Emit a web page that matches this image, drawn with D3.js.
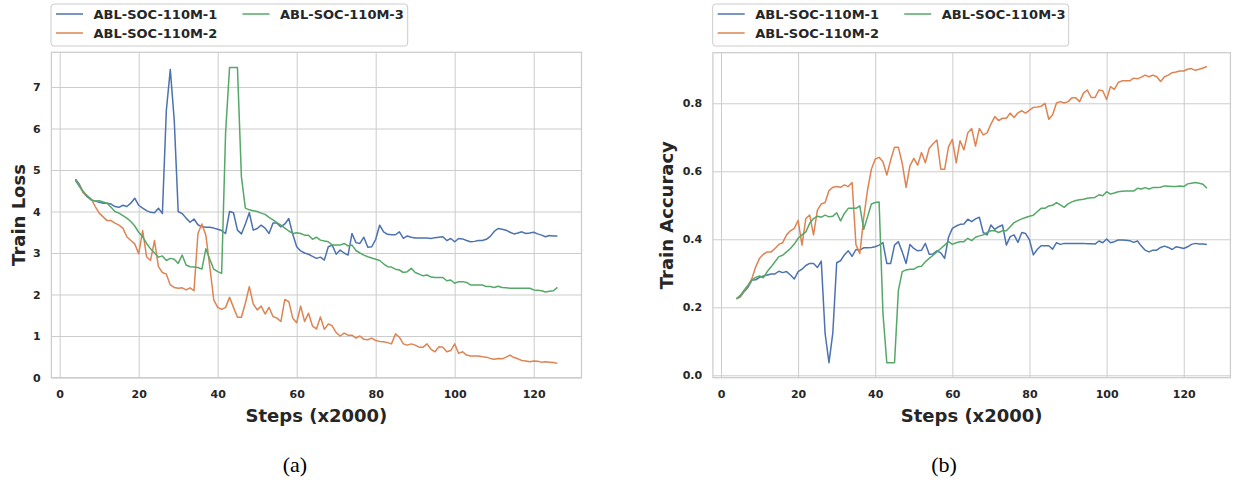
<!DOCTYPE html>
<html><head><meta charset="utf-8">
<script src="https://cdn.jsdelivr.net/npm/d3@7"></script>
<style>
html,body{margin:0;padding:0;background:#fff;}
svg{display:block;font-family:"DejaVu Sans",sans-serif;}
</style></head><body>
<svg id="fig" width="1233" height="480"></svg>
<script>
// Training steps (in units of 2000)
const steps = [4,5,6,7,8,9,10,11,12,13,14,15,16,17,18,19,20,21,22,23,24,25,26,27,28,29,30,31,32,33,34,35,36,37,38,39,40,41,42,43,44,45,46,47,48,49,50,51,52,53,54,55,56,57,58,59,60,61,62,63,64,65,66,67,68,69,70,71,72,73,74,75,76,77,78,79,80,81,82,83,84,85,86,87,88,89,90,91,92,93,94,95,96,97,98,99,100,101,102,103,104,105,106,107,108,109,110,111,112,113,114,115,116,117,118,119,120,121,122,123,124,125,126];

const seriesNames = ["ABL-SOC-110M-1", "ABL-SOC-110M-2", "ABL-SOC-110M-3"];
const seriesColors = ["#4c72b0", "#dd8452", "#55a868"];

// Train loss per run
const lossM1 = [4.78,4.65,4.45,4.35,4.28,4.25,4.22,4.2,4.2,4.18,4.12,4.1,4.15,4.12,4.2,4.32,4.15,4.08,4.02,3.98,3.97,4.08,3.95,6.44,7.42,6.2,4.0,3.95,3.84,3.74,3.82,3.68,3.63,3.62,3.62,3.6,3.57,3.54,3.47,4.0,3.97,3.55,3.46,3.7,3.97,3.55,3.59,3.67,3.6,3.47,3.72,3.72,3.63,3.7,3.83,3.45,3.15,3.05,3.0,2.97,2.92,2.87,2.9,2.83,3.15,3.19,2.97,3.07,3.0,2.95,3.47,3.25,3.23,3.38,3.14,3.15,3.33,3.67,3.51,3.45,3.44,3.44,3.51,3.35,3.41,3.38,3.36,3.36,3.36,3.36,3.35,3.37,3.38,3.39,3.3,3.35,3.27,3.35,3.34,3.3,3.27,3.28,3.3,3.3,3.33,3.4,3.52,3.59,3.57,3.55,3.5,3.46,3.48,3.51,3.47,3.48,3.5,3.46,3.43,3.39,3.42,3.41,3.41];
const lossM2 = [4.75,4.62,4.45,4.38,4.3,4.12,3.96,3.87,3.78,3.78,3.72,3.67,3.6,3.39,3.3,3.22,2.98,3.54,2.91,2.82,3.3,2.67,2.53,2.49,2.23,2.17,2.15,2.16,2.11,2.16,2.09,3.47,3.7,3.43,2.67,1.87,1.69,1.64,1.69,1.93,1.69,1.45,1.45,1.79,2.19,1.77,1.63,1.72,1.53,1.69,1.47,1.43,1.35,1.88,1.83,1.43,1.32,1.72,1.35,1.55,1.24,1.17,1.46,1.16,1.29,1.24,1.08,1.0,1.07,1.02,1.02,0.95,1.0,0.92,0.91,0.95,0.89,0.87,0.86,0.84,0.81,1.05,0.97,0.81,0.78,0.81,0.78,0.73,0.73,0.81,0.68,0.62,0.74,0.73,0.62,0.65,0.81,0.58,0.62,0.54,0.52,0.52,0.52,0.5,0.49,0.46,0.44,0.46,0.45,0.49,0.54,0.48,0.45,0.41,0.4,0.38,0.4,0.39,0.37,0.38,0.37,0.36,0.34];
const lossM3 = [4.75,4.6,4.48,4.37,4.28,4.25,4.26,4.23,4.2,4.1,4.0,3.96,3.9,3.84,3.76,3.65,3.5,3.39,3.23,3.1,3.0,2.9,2.93,2.82,2.87,2.85,2.75,2.95,2.71,2.67,2.66,2.65,2.61,3.1,2.85,2.61,2.55,2.51,5.9,7.47,7.47,7.47,4.84,4.08,4.04,4.02,4.0,3.96,3.93,3.86,3.8,3.73,3.67,3.6,3.53,3.47,3.49,3.47,3.43,3.43,3.33,3.38,3.31,3.29,3.27,3.19,3.19,3.19,3.23,3.17,3.19,3.06,3.0,2.95,2.91,2.88,2.85,2.82,2.74,2.67,2.66,2.61,2.59,2.53,2.55,2.63,2.53,2.49,2.45,2.47,2.42,2.41,2.41,2.41,2.33,2.35,2.27,2.31,2.31,2.29,2.23,2.23,2.23,2.23,2.19,2.19,2.17,2.2,2.17,2.16,2.15,2.15,2.15,2.15,2.15,2.15,2.11,2.1,2.09,2.06,2.08,2.09,2.17];

// Train accuracy per run
const accM1 = [0.225,0.231,0.246,0.259,0.28,0.281,0.288,0.292,0.295,0.298,0.298,0.306,0.302,0.305,0.295,0.283,0.305,0.312,0.323,0.329,0.329,0.317,0.336,0.123,0.037,0.125,0.331,0.337,0.354,0.366,0.35,0.37,0.368,0.375,0.375,0.376,0.378,0.383,0.39,0.329,0.329,0.383,0.393,0.363,0.329,0.385,0.373,0.366,0.368,0.388,0.356,0.357,0.366,0.36,0.344,0.406,0.432,0.439,0.444,0.445,0.459,0.452,0.46,0.465,0.42,0.413,0.442,0.429,0.437,0.442,0.383,0.408,0.413,0.391,0.42,0.417,0.398,0.354,0.37,0.381,0.381,0.381,0.371,0.39,0.385,0.388,0.388,0.388,0.388,0.388,0.388,0.387,0.387,0.386,0.395,0.39,0.401,0.39,0.393,0.398,0.398,0.397,0.396,0.391,0.395,0.38,0.368,0.363,0.368,0.368,0.376,0.38,0.376,0.37,0.378,0.376,0.373,0.378,0.385,0.388,0.386,0.386,0.385];
const accM2 = [0.225,0.233,0.248,0.264,0.284,0.319,0.344,0.356,0.363,0.363,0.373,0.385,0.39,0.413,0.425,0.432,0.456,0.383,0.461,0.471,0.413,0.486,0.504,0.508,0.543,0.553,0.555,0.553,0.56,0.555,0.567,0.384,0.358,0.462,0.545,0.606,0.636,0.641,0.628,0.589,0.633,0.671,0.671,0.623,0.553,0.616,0.638,0.618,0.655,0.625,0.668,0.681,0.692,0.606,0.606,0.672,0.694,0.625,0.69,0.663,0.713,0.726,0.674,0.726,0.707,0.713,0.739,0.761,0.749,0.756,0.756,0.771,0.758,0.772,0.778,0.771,0.78,0.788,0.789,0.791,0.8,0.753,0.766,0.801,0.805,0.801,0.805,0.816,0.816,0.805,0.83,0.839,0.817,0.817,0.839,0.837,0.811,0.849,0.841,0.861,0.866,0.866,0.866,0.874,0.872,0.877,0.883,0.878,0.883,0.878,0.864,0.878,0.883,0.89,0.892,0.895,0.895,0.9,0.902,0.897,0.9,0.904,0.908];
const accM3 = [0.225,0.235,0.25,0.264,0.28,0.288,0.292,0.287,0.305,0.319,0.334,0.349,0.353,0.363,0.373,0.386,0.403,0.413,0.422,0.447,0.461,0.468,0.465,0.471,0.466,0.468,0.478,0.454,0.476,0.491,0.491,0.491,0.498,0.429,0.466,0.504,0.508,0.51,0.182,0.037,0.037,0.037,0.25,0.305,0.31,0.312,0.312,0.319,0.321,0.334,0.344,0.353,0.363,0.373,0.383,0.393,0.385,0.39,0.393,0.393,0.403,0.396,0.406,0.41,0.413,0.42,0.425,0.425,0.42,0.425,0.425,0.437,0.449,0.455,0.46,0.464,0.468,0.471,0.481,0.491,0.491,0.498,0.5,0.508,0.501,0.494,0.504,0.51,0.514,0.516,0.518,0.521,0.522,0.523,0.531,0.528,0.54,0.533,0.536,0.54,0.541,0.542,0.542,0.542,0.55,0.548,0.552,0.548,0.552,0.552,0.553,0.557,0.556,0.555,0.555,0.557,0.555,0.563,0.565,0.567,0.565,0.562,0.55];

const xTickValues = [0, 20, 40, 60, 80, 100, 120];
const lossTickValues = [0, 1, 2, 3, 4, 5, 6, 7];
const accTickValues = [0.0, 0.2, 0.4, 0.6, 0.8];

const panels = [
  {
    left: 51.4, right: 581.5, top: 52.3, bottom: 377.7,
    xDomain: [-2.1, 132.1], yDomain: [-0.005, 7.836],
    yTicks: lossTickValues, yFormat: d3.format("d"),
    yLabel: "Train Loss", yLabelX: 25,
    series: [lossM1, lossM2, lossM3],
    legendX: 51, legendW: 356.7,
    caption: "(a)", captionX: 295
  },
  {
    left: 712.9, right: 1230.4, top: 52.7, bottom: 377.7,
    xDomain: [-2.1, 132.1], yDomain: [-0.00706, 0.9488],
    yTicks: accTickValues, yFormat: d3.format(".1f"),
    yLabel: "Train Accuracy", yLabelX: 673,
    series: [accM1, accM2, accM3],
    legendX: 712.7, legendW: 356,
    caption: "(b)", captionX: 944
  }
];

const svg = d3.select("#fig");
const gridColor = "#cccccc";
const textColor = "#262626";

panels.forEach(p => {
  const x = d3.scaleLinear().domain(p.xDomain).range([p.left, p.right]);
  const y = d3.scaleLinear().domain(p.yDomain).range([p.bottom, p.top]);
  const w = p.right - p.left, h = p.bottom - p.top;
  const g = svg.append("g");

  // grid lines
  g.append("g")
    .attr("transform", `translate(0,${p.bottom})`)
    .call(d3.axisBottom(x).tickValues(xTickValues).tickSize(-h).tickFormat(""))
    .call(s => s.select(".domain").remove())
    .call(s => s.selectAll("line").attr("stroke", gridColor).attr("stroke-width", 1));
  g.append("g")
    .attr("transform", `translate(${p.left},0)`)
    .call(d3.axisLeft(y).tickValues(p.yTicks).tickSize(-w).tickFormat(""))
    .call(s => s.select(".domain").remove())
    .call(s => s.selectAll("line").attr("stroke", gridColor).attr("stroke-width", 1));

  // frame
  g.append("rect")
    .attr("x", p.left).attr("y", p.top).attr("width", w).attr("height", h)
    .attr("fill", "none").attr("stroke", gridColor).attr("stroke-width", 1.25);

  // tick labels
  g.append("g")
    .attr("transform", `translate(0,${p.bottom})`)
    .call(d3.axisBottom(x).tickValues(xTickValues).tickSize(0).tickPadding(12.5).tickFormat(d3.format("d")))
    .call(s => s.select(".domain").remove())
    .call(s => s.selectAll("text").attr("fill", textColor).attr("font-size", 11)
      .attr("font-weight", "bold").attr("font-family", "DejaVu Sans"));
  g.append("g")
    .attr("transform", `translate(${p.left},0)`)
    .call(d3.axisLeft(y).tickValues(p.yTicks).tickSize(0).tickPadding(10.7).tickFormat(p.yFormat))
    .call(s => s.select(".domain").remove())
    .call(s => s.selectAll("text").attr("fill", textColor).attr("font-size", 11)
      .attr("font-weight", "bold").attr("font-family", "DejaVu Sans"));

  // series lines
  const line = d3.line().x((d, i) => x(steps[i])).y(d => y(d));
  p.series.forEach((vals, k) => {
    g.append("path")
      .datum(vals)
      .attr("d", line)
      .attr("fill", "none")
      .attr("stroke", seriesColors[k])
      .attr("stroke-width", 1.5)
      .attr("stroke-linejoin", "round");
  });

  // axis titles
  g.append("text")
    .attr("x", (p.left + p.right) / 2).attr("y", 421.5)
    .attr("text-anchor", "middle")
    .attr("font-size", 18).attr("font-weight", "bold").attr("fill", textColor)
    .text("Steps (x2000)");
  g.append("text")
    .attr("transform", `translate(${p.yLabelX},${(p.top + p.bottom) / 2}) rotate(-90)`)
    .attr("text-anchor", "middle")
    .attr("font-size", 18).attr("font-weight", "bold").attr("fill", textColor)
    .text(p.yLabel);

  // legend
  const lg = g.append("g").attr("transform", `translate(${p.legendX},4)`);
  lg.append("rect")
    .attr("width", p.legendW).attr("height", 42).attr("rx", 3)
    .attr("fill", "#fff").attr("fill-opacity", 0.8)
    .attr("stroke", gridColor).attr("stroke-width", 1);
  const slots = [[0, 0], [0, 1], [1, 0]];
  seriesNames.forEach((name, k) => {
    const cx = 5 + slots[k][0] * 186.5;
    const cy = 10 + slots[k][1] * 19;
    lg.append("line")
      .attr("x1", cx).attr("x2", cx + 27).attr("y1", cy).attr("y2", cy)
      .attr("stroke", seriesColors[k]).attr("stroke-width", 1.5);
    lg.append("text")
      .attr("x", cx + 37.5).attr("y", cy).attr("dy", "0.36em")
      .attr("font-size", 13).attr("font-weight", "bold").attr("fill", textColor)
      .text(name);
  });

  // sub-figure caption
  svg.append("text")
    .attr("x", p.captionX).attr("y", 471.5)
    .attr("text-anchor", "middle")
    .attr("font-family", "'Liberation Serif', 'Times New Roman', serif")
    .attr("font-size", 22).attr("fill", "#000")
    .text(p.caption);
});
</script>
</body></html>
